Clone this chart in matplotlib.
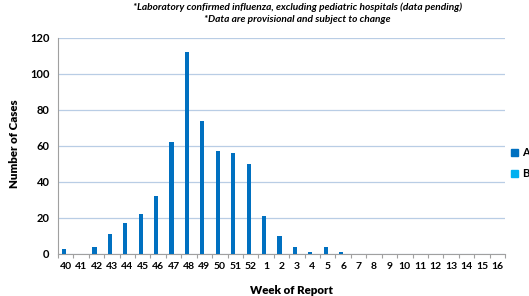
import matplotlib
matplotlib.use("Agg")
import matplotlib.pyplot as plt
import numpy as np
from matplotlib.patches import Patch

plt.rcParams['font.family'] = ['Lato', 'DejaVu Sans']

weeks = ['40', '41', '42', '43', '44', '45', '46', '47', '48', '49', '50', '51', '52',
         '1', '2', '3', '4', '5', '6', '7', '8', '9', '10', '11', '12', '13', '14', '15', '16']
series_a = [3, 0, 4, 11, 17, 22, 32, 62, 112, 74, 57, 56, 50,
            21, 10, 4, 1, 4, 1, 0, 0, 0, 0, 0, 0, 0, 0, 0, 0]
series_b = [0] * len(weeks)
yticks = [0, 20, 40, 60, 80, 100, 120]

col_a = '#0070C0'
col_b = '#00B0F0'

W, H = 529, 296
fig = plt.figure(figsize=(W/100, H/100), dpi=100)
ax = fig.add_axes([58/W, 1-254/H, (505-58)/W, (254-38)/H])

x = np.arange(len(weeks))
w = 0.27
ax.bar(x - w/2, series_a, width=w, color=col_a, zorder=3)
ax.bar(x + w/2, series_b, width=w, color=col_b, zorder=3)

ax.set_xlim(-0.5, len(weeks) - 0.5)
ax.set_ylim(0, 120)
ax.set_yticks(yticks)
ax.set_yticklabels([str(v) for v in yticks], fontsize=8, fontweight='bold')
ax.yaxis.grid(True, color='#B9CDE5', linewidth=0.9, zorder=0)
ax.tick_params(axis='y', length=0, pad=6)

ax.set_xticks(x)
ax.set_xticklabels(weeks, fontsize=7.5, fontweight='bold')
ax.tick_params(axis='x', length=0, pad=6)
ax.set_xticks(np.arange(-0.5, len(weeks), 1), minor=True)
ax.tick_params(axis='x', which='minor', length=3, color='#A0A0A0', width=0.8)

for s in ['top', 'right']:
    ax.spines[s].set_visible(False)
ax.spines['left'].set_color('#A0A0A0')
ax.spines['bottom'].set_color('#A0A0A0')
ax.spines['left'].set_linewidth(0.8)
ax.spines['bottom'].set_linewidth(0.8)

fig.text(291/W, 1-290/H, 'Week of Report', ha='center', va='center',
         fontsize=8.3, fontweight='heavy')
fig.text(15/W, 1-144/H, 'Number of Cases', ha='center', va='center',
         rotation=90, fontsize=8.3, fontweight='heavy')

fig.text(298/W, 1-7/H, '*Laboratory confirmed influenza, excluding pediatric hospitals (data pending)',
         ha='center', va='center', fontsize=7.3, fontweight='bold', style='italic')
fig.text(297/W, 1-20/H, '*Data are provisional and subject to change',
         ha='center', va='center', fontsize=7.3, fontweight='bold', style='italic')

handles = [Patch(color=col_a, label='A'), Patch(color=col_b, label='B')]
fig.legend(handles=handles, loc='center left', bbox_to_anchor=(509/W, 1-163/H),
           frameon=False, prop={'weight': 'bold', 'size': 8},
           handlelength=0.6, handleheight=0.6, handletextpad=0.4, labelspacing=0.9,
           borderpad=0.2, borderaxespad=0.0)

fig.savefig('out.png', dpi=100)
